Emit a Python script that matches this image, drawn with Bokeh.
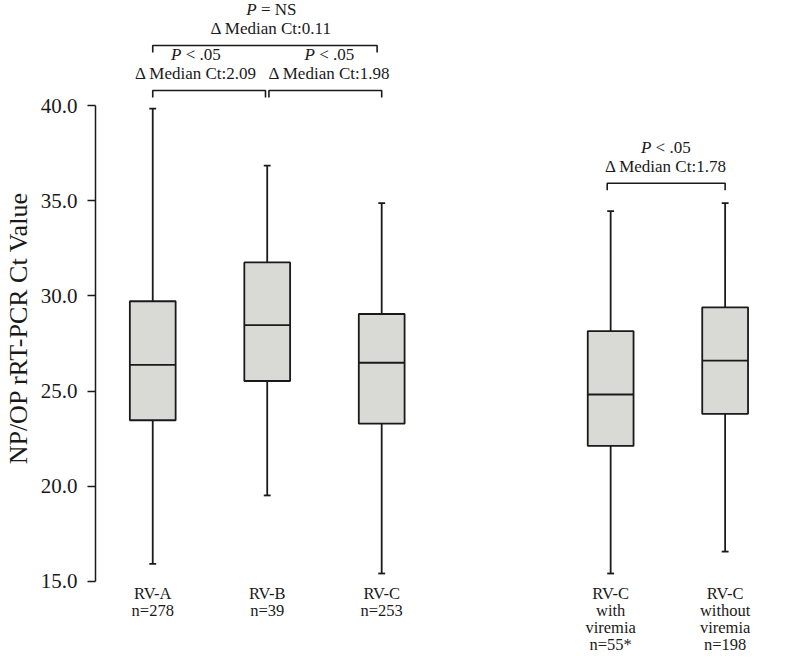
from bokeh.plotting import figure
from bokeh.models import Range1d, FixedTicker, PrintfTickFormatter, ColumnDataSource
from bokeh.core.properties import value
from bokeh.embed import file_html
from bokeh.resources import INLINE

# ---------------- data ----------------
groups = ["RV-A", "RV-B", "RV-C", "RV-C with viremia", "RV-C without viremia"]
group_labels = [["RV-A", "n=278"], ["RV-B", "n=39"], ["RV-C", "n=253"],
                ["RV-C", "with", "viremia", "n=55*"],
                ["RV-C", "without", "viremia", "n=198"]]
positions = [1, 2, 3, 5, 6]
lower_whisker = [15.93, 19.52, 15.42, 15.42, 16.57]
q1 = [23.47, 25.53, 23.29, 22.12, 23.80]
median = [26.38, 28.47, 26.49, 24.82, 26.60]
q3 = [29.72, 31.76, 29.05, 28.15, 29.40]
upper_whisker = [39.84, 36.84, 34.87, 34.45, 34.87]
y_ticks = [15, 20, 25, 30, 35, 40]

# comparisons: (group i, group j, p text, delta median)
comp_i = [0, 1, 0, 3]
comp_j = [1, 2, 2, 4]
comp_p = ["< .05", "< .05", "= NS", "< .05"]
comp_delta = ["2.09", "1.98", "0.11", "1.78"]

# ---------------- layout constants ----------------
FONT = "Liberation Serif"
INK = "#1a1a1a"
BOX_W = 0.4
CAP_W = 0.06
bar_level = [40.79, 40.79, 43.15, 35.92]      # bracket heights (data units)
tick_len = 0.37
gap = [(0.0, -0.015), (0.015, 0.0), (0.0, -0.04), (-0.03, 0.0)]
text_dx = [-14, 5, 4, -2]                      # pixel shift of the text blocks
line1_dy = 1.9
line2_dy = 0.87
LABEL_TOP = 12       # px below y=15 of the first label line centre
LABEL_STEP = 17      # px between label lines

p = figure(width=775, height=655,
           x_range=Range1d(0.5, 6.44), y_range=Range1d(11.113, 45.515),
           output_backend="svg", toolbar_location=None, x_axis_location=None,
           min_border_left=89, min_border_right=0, min_border_top=0, min_border_bottom=0)
p.outline_line_color = None
p.xgrid.visible = False
p.ygrid.visible = False
p.background_fill_color = "white"
p.border_fill_color = "white"

# y axis
ax = p.yaxis[0]
ax.bounds = (15, 40)
ax.ticker = FixedTicker(ticks=y_ticks)
ax.formatter = PrintfTickFormatter(format="%.1f")
ax.major_tick_in = 0
ax.major_tick_out = 8
ax.minor_tick_in = 0
ax.minor_tick_out = 0
ax.axis_line_width = 1.5
ax.axis_line_color = INK
ax.major_tick_line_width = 1.5
ax.major_tick_line_color = INK
ax.major_label_text_font = FONT
ax.major_label_text_font_size = "21px"
ax.major_label_text_color = INK
ax.major_label_standoff = 10
ax.axis_label = "NP/OP rRT-PCR Ct Value"
ax.axis_label_text_font = FONT
ax.axis_label_text_font_size = "26px"
ax.axis_label_text_font_style = "normal"
ax.axis_label_text_color = INK
ax.axis_label_standoff = 5

# boxes
src = ColumnDataSource(dict(
    x=positions, lo=lower_whisker, q1=q1, med=median, q3=q3, hi=upper_whisker,
    xl=[x - BOX_W / 2 for x in positions], xr=[x + BOX_W / 2 for x in positions],
    cl=[x - CAP_W / 2 for x in positions], cr=[x + CAP_W / 2 for x in positions],
))
p.segment(x0="x", y0="q3", x1="x", y1="hi", source=src, line_color=INK, line_width=1.8)
p.segment(x0="x", y0="q1", x1="x", y1="lo", source=src, line_color=INK, line_width=1.8)
p.segment(x0="cl", y0="hi", x1="cr", y1="hi", source=src, line_color=INK, line_width=1.8)
p.segment(x0="cl", y0="lo", x1="cr", y1="lo", source=src, line_color=INK, line_width=1.8)
p.vbar(x="x", width=BOX_W, bottom="q1", top="q3", source=src,
       fill_color="#d9d9d6", line_color=INK, line_width=1.8)
p.segment(x0="xl", y0="med", x1="xr", y1="med", source=src, line_color=INK, line_width=1.8)

# category labels under the boxes (one glyph per line)
lx, ltxt, loff = [], [], []
for pos, lines in zip(positions, group_labels):
    for i, line in enumerate(lines):
        lx.append(pos)
        ltxt.append(line)
        loff.append(LABEL_TOP + LABEL_STEP * i)
lsrc = ColumnDataSource(dict(x=lx, y=[15] * len(lx), t=ltxt, off=loff))
p.text(x="x", y="y", text="t", y_offset="off", source=lsrc, text_font=value(FONT),
       text_font_size="16.5px", text_align="center", text_baseline="middle",
       text_color=INK)

# comparison brackets and texts
bx, by, tx, ty1, ty2, ptxt, dtxt, dxs = [], [], [], [], [], [], [], []
for k in range(len(comp_i)):
    x0 = positions[comp_i[k]] + gap[k][0]
    x1 = positions[comp_j[k]] + gap[k][1]
    lvl = bar_level[k]
    bx.append([x0, x0, x1, x1])
    by.append([lvl - tick_len, lvl, lvl, lvl - tick_len])
    tx.append((positions[comp_i[k]] + positions[comp_j[k]]) / 2)
    ty1.append(lvl + line1_dy)
    ty2.append(lvl + line2_dy)
    ptxt.append(comp_p[k])
    dtxt.append("\u0394 Median Ct:" + comp_delta[k])
    dxs.append(text_dx[k])

p.multi_line(xs=bx, ys=by, line_color=INK, line_width=1.6)
csrc = ColumnDataSource(dict(x=tx, y1=ty1, y2=ty2, pt=ptxt, dt=dtxt,
                             px=[d - 14.5 for d in dxs], rx=[d - 10.3 for d in dxs],
                             dx=dxs, P=["P"] * len(tx)))
p.text(x="x", y="y1", text="P", source=csrc, x_offset="px", text_font=value(FONT),
       text_font_style="italic", text_font_size="17px", text_align="right",
       text_baseline="middle", text_color=INK)
p.text(x="x", y="y1", text="pt", source=csrc, x_offset="rx", text_font=value(FONT),
       text_font_size="17px", text_align="left", text_baseline="middle", text_color=INK)
p.text(x="x", y="y2", text="dt", source=csrc, x_offset="dx", text_font=value(FONT),
       text_font_size="17px", text_align="center", text_baseline="middle", text_color=INK)

open("out.html", "w").write(file_html(p, INLINE))
